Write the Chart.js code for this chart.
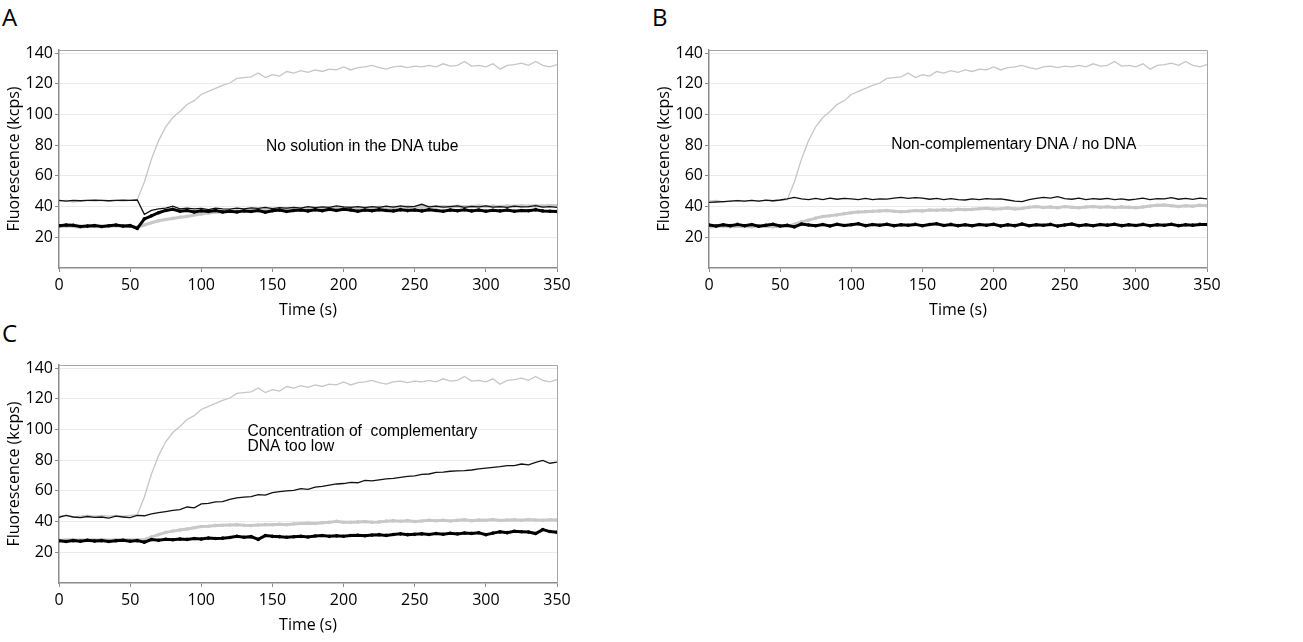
<!DOCTYPE html>
<html>
<head>
<meta charset="utf-8">
<script src="https://cdn.jsdelivr.net/npm/chart.js@4.4.1/dist/chart.umd.min.js"></script>
<style>
body { margin: 0; background: #fff; width: 1303px; height: 642px; position: relative; overflow: hidden; }
.panel { position: absolute; width: 600px; height: 320px; }
.tag { position: absolute; font-family: "Open Sans", sans-serif; font-size: 24px; line-height: 1; color: #000; }
</style>
</head>
<body>
<div class="tag" style="left:2px;top:5px">A</div>
<div class="tag" style="left:652px;top:5px">B</div>
<div class="tag" style="left:2px;top:321px">C</div>
<div class="panel" style="left:0;top:0"><canvas id="chartA" width="600" height="320"></canvas></div>
<div class="panel" style="left:650px;top:0"><canvas id="chartB" width="600" height="320"></canvas></div>
<div class="panel" style="left:0;top:315px"><canvas id="chartC" width="600" height="320"></canvas></div>
<script>
// time points (s)
var times = [0, 5, 10, 15, 20, 25, 30, 35, 40, 45,
    50, 55, 60, 65, 70, 75, 80, 85, 90, 95,
    100, 105, 110, 115, 120, 125, 130, 135, 140, 145,
    150, 155, 160, 165, 170, 175, 180, 185, 190, 195,
    200, 205, 210, 215, 220, 225, 230, 235, 240, 245,
    250, 255, 260, 265, 270, 275, 280, 285, 290, 295,
    300, 305, 310, 315, 320, 325, 330, 335, 340, 345,
    350];
var xTicks = [0, 50, 100, 150, 200, 250, 300, 350];
var yTicks = [20, 40, 60, 80, 100, 120, 140];

// positive control, same in all three panels (light grey thin line)
var posCtrl = [43.5, 44, 43, 43.5, 44, 43.5, 44, 43.5, 44, 43.5,
    44, 44.5, 56, 71, 83, 92, 98, 102, 106.5, 109,
    113, 115, 117, 119, 120.5, 123.5, 124, 124.5, 127, 124,
    126, 125, 128, 127, 128.5, 127.5, 129, 128, 129.5, 129,
    131, 129, 130.5, 131, 132, 130.5, 129.5, 131, 131.5, 130.5,
    131.5, 131, 132, 131, 133, 131.5, 132, 134.5, 131.5, 132,
    131, 133, 129.5, 132, 132.5, 133.5, 132, 134.5, 132, 131,
    132.5];

// A - no solution in the DNA tube
var noSolThin = [44, 43.5, 44, 43.8, 44, 44.2, 44, 43.8, 44, 44.2,
    44, 44.3, 35, 37.5, 38.5, 39, 40.3, 38.5, 39, 38.5,
    38.8, 38, 39, 38.5, 38.3, 39, 38.5, 39.2, 38.8, 39.5,
    38.7, 39.3, 39, 39.5, 39, 40, 39.3, 39.8, 39.5, 40.5,
    39.8, 39.5, 40, 39.3, 40, 39.5, 40.3, 39.6, 40.5, 39.8,
    40.2, 41.5, 39.8, 40.3, 39.6, 40, 40.5, 39.5, 40.2, 39.8,
    40.5, 39.6, 40, 39.5, 40.3, 39.8, 40, 40.6, 39.7, 40,
    39.5];
var noSolThick = [27.5, 28, 27.8, 27, 27.3, 27.6, 27, 27.5, 28, 27.3,
    27.6, 25.8, 32, 34, 36, 37.5, 38.3, 37, 37.5, 36.5,
    37.3, 36.8, 37.5, 36.5, 37, 36.5, 37.2, 36.8, 37.5, 36.3,
    37.3, 37.8, 36.8, 37.5, 37.8, 37.2, 38, 37.3, 38.2, 37.5,
    38.3, 37.8, 37, 37.8, 37.3, 38, 37.5, 37.2, 38, 37.4,
    37.8, 37.2, 38, 37.5, 37, 37.8, 37.3, 37.9, 37.2, 37.7,
    37, 37.6, 37.2, 37.8, 37, 37.5, 37.3, 38, 37.2, 37,
    36.8];
var noSolGray = [26.8, 27.3, 27, 26.5, 27, 27.2, 26.8, 27, 27.5, 27,
    27.2, 26.5, 28, 29.5, 30.8, 31.6, 32.3, 33, 33.6, 34.5,
    35.2, 35.8, 36.3, 36.5, 37, 37.2, 37.5, 37.6, 37.8, 38,
    38.2, 38, 38.4, 38.6, 38.5, 38.8, 39, 38.7, 39, 39.2,
    39, 39.3, 39.1, 39.4, 39.2, 39.5, 39.3, 39.6, 39.4, 39.8,
    39.5, 39.7, 39.6, 39.8, 40, 39.7, 40.2, 39.9, 40.1, 40.4,
    40, 40.3, 40.1, 40.4, 40.2, 40.5, 40.3, 40.6, 40.4, 40.7,
    40.5];

// B - non-complementary DNA / no DNA
var nonCompThin = [42.8, 43, 43.3, 43.6, 43.9, 43.5, 44, 43.6, 44.2, 43.8,
    44.3, 45, 46, 45, 44.5, 45.3, 44.5, 45.5, 44.8, 45.3,
    45, 44.5, 45.3, 44.6, 45, 44.8, 45.5, 46, 45.3, 45.8,
    45.5, 44.8, 45.3, 44.6, 45.2, 44.5, 44.3, 45, 44.6, 45.2,
    44.8, 45, 44.3, 43.5, 43.3, 44.5, 45.4, 46, 45.5, 46.5,
    45.2, 44.8, 45.5, 44.6, 45.2, 44.8, 45.3, 44.5, 45, 44.3,
    44.8, 45.5, 44.6, 45.2, 45, 45.8, 44.8, 45.3, 44.7, 45.5,
    45];
var nonCompThick = [28, 27.3, 28.2, 27.6, 28.4, 27.5, 28.3, 27.2, 27.8, 28.5,
    27.4, 27.8, 26.8, 28.6, 28, 27.5, 28.3, 27.4, 28.5, 27.7,
    28.2, 28.8, 27.6, 28.3, 27.8, 28.5, 27.6, 28.2, 27.8, 28.4,
    27.5, 28.3, 28.8, 27.7, 28.4, 27.6, 28.2, 27.5, 28.3, 27.8,
    28.5, 27.4, 28.1, 27.6, 28.6, 27.5, 28.2, 27.8, 28.4, 27.3,
    28, 28.6, 27.6, 28.2, 27.5, 28.3, 27.9, 28.5, 27.6, 28.2,
    27.7, 28.4, 27.5, 28.1, 27.8, 28.5, 27.6, 28.2, 27.9, 28.4,
    28.3];
var nonCompGray = [26.5, 27, 27.3, 26.8, 27.2, 27, 26.8, 27.3, 27, 26.8,
    27.2, 27, 28.5, 30, 31.2, 32.5, 33.5, 34, 34.6, 35.4,
    36, 36.5, 36.7, 37, 37.2, 37.4, 37, 36.7, 37, 37.5,
    37.2, 37.8, 37.6, 38, 37.7, 38.3, 38, 38.2, 38.6, 38.9,
    38.4, 38.6, 39, 38.5, 38.8, 39.5, 40, 39.4, 39.8, 39.3,
    40, 39.6, 39.2, 39.8, 40, 39.5, 39.9, 39.4, 39.8, 39.5,
    39.3, 39.8, 40.4, 40.8, 41, 40.5, 40, 40.6, 40.2, 40.8,
    40.6];

// C - concentration of complementary DNA too low
var lowConcThin = [42.8, 44, 43, 42.6, 43.3, 42.8, 43, 42.3, 43.5, 43,
    42.6, 44, 43.8, 45, 45.8, 46.5, 47.3, 47.8, 49.5, 49,
    51.5, 51.8, 52.8, 53, 54.5, 55.5, 56, 56.3, 57.5, 57.2,
    58.8, 59.5, 60, 60.3, 61.5, 61, 62.5, 63, 63.8, 64.5,
    64.8, 65.5, 65.3, 66.8, 66.5, 67.2, 67.8, 68.2, 68.8, 69.5,
    69.8, 70.8, 71, 72, 72.2, 72.8, 73, 73.2, 73.6, 74.3,
    74.8, 75.3, 75.8, 76.5, 76.5, 77.5, 77, 78.5, 79.8, 78,
    78.7];
var lowConcThick = [27.5, 27, 27.6, 27.2, 27.8, 27.3, 27.6, 27, 27.5, 27.8,
    27.2, 27.6, 26.6, 28.3, 27.8, 28.5, 28.2, 28.7, 28.4, 29,
    28.6, 29.3, 29, 29.2, 29.6, 30.4, 29.8, 30.2, 28.4, 30.9,
    30.4, 30.2, 29.8, 30.1, 30.4, 30, 30.6, 30.9, 30.4, 30.7,
    30.5, 30.9, 31.1, 30.8, 31.2, 31.5, 31, 31.6, 32, 31.5,
    31.7, 32, 31.6, 32.2, 31.8, 32.4, 32, 32.6, 32.3, 32.7,
    31.5, 32.5, 33.3, 32.8, 33.7, 33.4, 33.2, 32.2, 34.8, 33.5,
    33];
var lowConcGray = [27.8, 28, 28.3, 27.9, 28.2, 28, 28.3, 27.8, 28.1, 28.3,
    28, 28.2, 28.2, 30, 31.5, 33, 33.8, 34.5, 35.2, 36,
    36.8, 37, 37.4, 37.6, 37.8, 38, 37.6, 37.4, 37.8, 38,
    37.9, 38.3, 38, 38.5, 38.8, 39, 38.8, 39.2, 39.5, 40.2,
    39.6, 39.5, 39.8, 40, 39.6, 39.8, 40.3, 40.6, 40.2, 40.6,
    40, 40.4, 40.8, 40.5, 40.9, 40.4, 40.8, 41.2, 40.6, 41,
    40.8, 41.3, 40.7, 41, 41.2, 40.8, 41.3, 41, 40.8, 41.2,
    41];

function xy(vals) {
    return times.map(function (t, i) { return { x: t, y: vals[i] }; });
}

var tickFont = { family: '"Open Sans", sans-serif', size: 16 };
var titleFont = { family: '"Open Sans", sans-serif', size: 16 };
var noteFont = '15.6px "Liberation Sans", Arial, sans-serif';

function makePanel(id, thin, thick, gray, notes) {
    // frame on top/right + free text inside the plot
    var extras = {
        id: 'extras',
        afterDraw: function (chart) {
            var ctx = chart.ctx, a = chart.chartArea;
            var xs = chart.scales.x, ys = chart.scales.y;
            ctx.save();
            ctx.strokeStyle = '#a6a6a6';
            ctx.lineWidth = 1;
            ctx.beginPath();
            ctx.moveTo(a.left, a.top + 0.5);
            ctx.lineTo(a.right + 0.5, a.top + 0.5);
            ctx.lineTo(a.right + 0.5, a.bottom);
            ctx.stroke();
            ctx.fillStyle = '#000';
            ctx.font = noteFont;
            ctx.textAlign = 'left';
            ctx.textBaseline = 'middle';
            notes.forEach(function (n) {
                ctx.fillText(n.text, xs.getPixelForValue(n.x), ys.getPixelForValue(n.y));
            });
            ctx.restore();
        }
    };

    return new Chart(document.getElementById(id).getContext('2d'), {
        type: 'line',
        data: {
            datasets: [{
                data: xy(thin),
                borderColor: '#111',
                borderWidth: 1.3,
                pointRadius: 0
            }, {
                data: xy(thick),
                borderColor: '#000',
                borderWidth: 3,
                pointRadius: 1.8,
                pointBorderWidth: 0,
                pointBackgroundColor: '#000'
            }, {
                data: xy(posCtrl),
                borderColor: '#c6c6c6',
                borderWidth: 1.3,
                pointRadius: 0
            }, {
                data: xy(gray),
                borderColor: '#c8c8c8',
                borderWidth: 3,
                pointRadius: 1.8,
                pointBorderWidth: 0,
                pointBackgroundColor: '#c8c8c8'
            }]
        },
        options: {
            responsive: false,
            animation: false,
            events: [],
            layout: { padding: { left: 0, right: 43, top: 50, bottom: 0 } },
            plugins: { legend: { display: false }, tooltip: { enabled: false } },
            elements: { line: { tension: 0 } },
            scales: {
                x: {
                    type: 'linear',
                    min: 0,
                    max: 350,
                    afterFit: function (s) { s.height = 52; },
                    afterBuildTicks: function (s) { s.ticks = xTicks.map(function (v) { return { value: v }; }); },
                    border: { color: '#8c8c8c', width: 1.5 },
                    grid: { drawOnChartArea: false, tickLength: 4, color: '#8c8c8c' },
                    ticks: { padding: 4, color: '#000', font: tickFont, maxRotation: 0, autoSkip: false },
                    title: { display: true, text: 'Time (s)', color: '#000', font: titleFont, padding: { top: 0, bottom: 0 } }
                },
                y: {
                    min: 0,
                    max: 142,
                    afterFit: function (s) { s.width = 59; },
                    afterBuildTicks: function (s) { s.ticks = yTicks.map(function (v) { return { value: v }; }); },
                    border: { color: '#8c8c8c', width: 1.5 },
                    grid: { color: '#ebebeb', tickColor: '#8c8c8c', tickLength: 4 },
                    ticks: { padding: 2, color: '#000', font: tickFont },
                    title: { display: true, text: 'Fluorescence (kcps)', color: '#000', font: titleFont, padding: { top: 5, bottom: 0 } }
                }
            }
        },
        plugins: [extras]
    });
}

makePanel('chartA', noSolThin, noSolThick, noSolGray, [
    { x: 145.5, y: 79.3, text: 'No solution in the DNA tube' }
]);
makePanel('chartB', nonCompThin, nonCompThick, nonCompGray, [
    { x: 128, y: 80.4, text: 'Non-complementary DNA / no DNA' }
]);
makePanel('chartC', lowConcThin, lowConcThick, lowConcGray, [
    { x: 132.5, y: 98.8, text: 'Concentration of  complementary' },
    { x: 132.5, y: 89, text: 'DNA too low' }
]);
</script>
</body>
</html>
